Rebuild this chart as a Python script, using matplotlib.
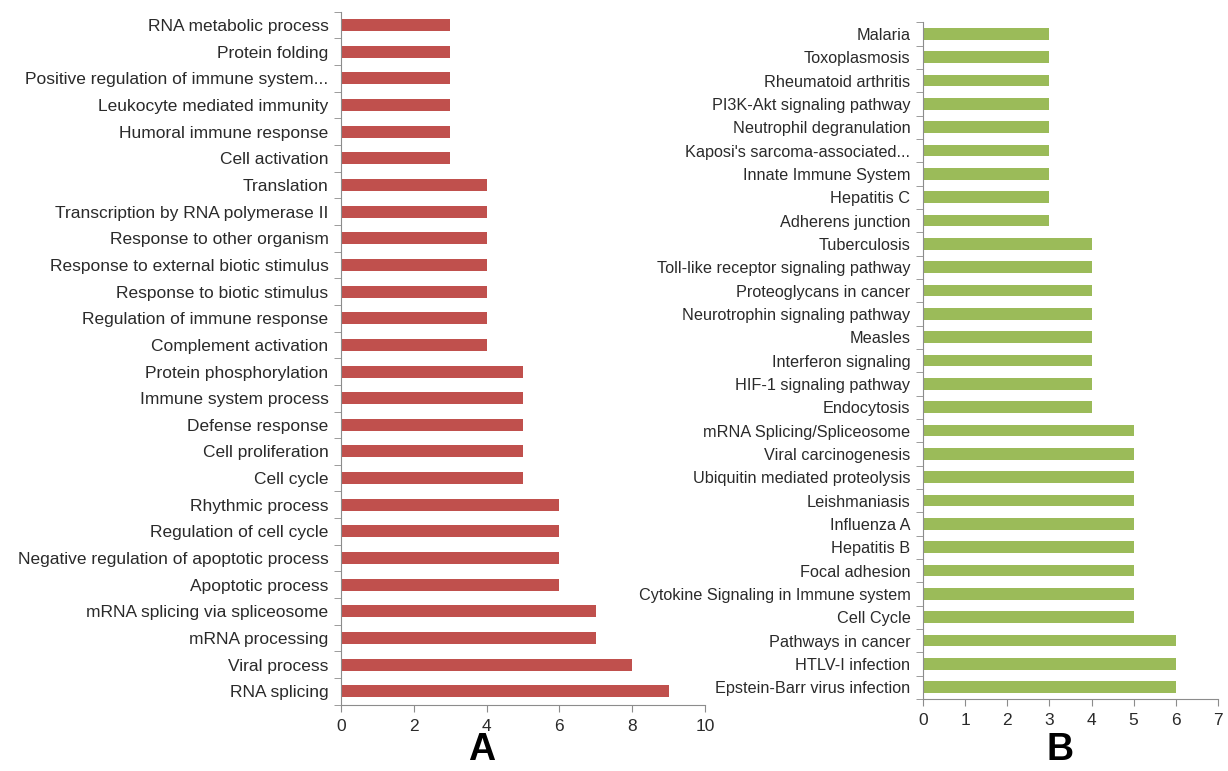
#!/usr/bin/env python3
"""
Two horizontal bar charts of enriched terms (panel A: GO processes,
panel B: pathways).
"""
import matplotlib.pyplot as plt
import numpy as np

plt.rcParams['font.family'] = ['Liberation Sans', 'DejaVu Sans']

terms_a = [
    'RNA metabolic process', 'Protein folding',
    'Positive regulation of immune system...', 'Leukocyte mediated immunity',
    'Humoral immune response', 'Cell activation', 'Translation',
    'Transcription by RNA polymerase II', 'Response to other organism',
    'Response to external biotic stimulus', 'Response to biotic stimulus',
    'Regulation of immune response', 'Complement activation',
    'Protein phosphorylation', 'Immune system process', 'Defense response',
    'Cell proliferation', 'Cell cycle', 'Rhythmic process',
    'Regulation of cell cycle', 'Negative regulation of apoptotic process',
    'Apoptotic process', 'mRNA splicing via spliceosome', 'mRNA processing',
    'Viral process', 'RNA splicing',
]
counts_a = [3, 3, 3, 3, 3, 3, 4, 4, 4, 4, 4, 4, 4, 5, 5, 5, 5, 5,
            6, 6, 6, 6, 7, 7, 8, 9]

terms_b = [
    'Malaria', 'Toxoplasmosis', 'Rheumatoid arthritis',
    'PI3K-Akt signaling pathway', 'Neutrophil degranulation',
    "Kaposi's sarcoma-associated...", 'Innate Immune System', 'Hepatitis C',
    'Adherens junction', 'Tuberculosis', 'Toll-like receptor signaling pathway',
    'Proteoglycans in cancer', 'Neurotrophin signaling pathway', 'Measles',
    'Interferon signaling', 'HIF-1 signaling pathway', 'Endocytosis',
    'mRNA Splicing/Spliceosome', 'Viral carcinogenesis',
    'Ubiquitin mediated proteolysis', 'Leishmaniasis', 'Influenza A',
    'Hepatitis B', 'Focal adhesion', 'Cytokine Signaling in Immune system',
    'Cell Cycle', 'Pathways in cancer', 'HTLV-I infection',
    'Epstein-Barr virus infection',
]
counts_b = [3, 3, 3, 3, 3, 3, 3, 3, 3, 4, 4, 4, 4, 4, 4, 4, 4,
            5, 5, 5, 5, 5, 5, 5, 5, 5, 6, 6, 6]

AXIS_GREY = '#8c8c8c'
TEXT_COLOR = '#2a2a2a'


def draw_panel(ax, terms, counts, color, xmax, xstep, height, fsize):
    n = len(terms)
    y = np.arange(n)[::-1]
    ax.barh(y, counts, height=height, color=color)
    ax.set_ylim(-0.5, n - 0.5)
    ax.set_xlim(0, xmax)
    ax.set_xticks(np.arange(0, xmax + 1, xstep))
    ax.set_yticks(y)
    ax.set_yticklabels(terms, fontsize=fsize, color=TEXT_COLOR)
    ax.set_yticks(np.arange(-0.5, n, 1), minor=True)
    ax.tick_params(axis='y', which='major', length=0, pad=9)
    ax.tick_params(axis='y', which='minor', length=5, color=AXIS_GREY)
    ax.tick_params(axis='x', length=5, color=AXIS_GREY, labelsize=12.5,
                   labelcolor=TEXT_COLOR, pad=5)
    for side in ('top', 'right'):
        ax.spines[side].set_visible(False)
    for side in ('left', 'bottom'):
        ax.spines[side].set_color(AXIS_GREY)


fig = plt.figure(figsize=(12.28, 7.71), dpi=100)
ax_a = fig.add_axes([0.2777, 0.0860, 0.2964, 0.8988])
ax_b = fig.add_axes([0.7516, 0.0934, 0.2402, 0.8777])

draw_panel(ax_a, terms_a, counts_a, '#C0504D', 10, 2, 0.45, 12.5)
draw_panel(ax_b, terms_b, counts_b, '#9BBB59', 7, 1, 0.5, 11.7)

fig.text(0.3925, 0.004, 'A', fontsize=27, fontweight='bold',
         ha='center', va='bottom')
fig.text(0.863, 0.004, 'B', fontsize=27, fontweight='bold',
         ha='center', va='bottom')

fig.savefig('out.png', dpi=100)
